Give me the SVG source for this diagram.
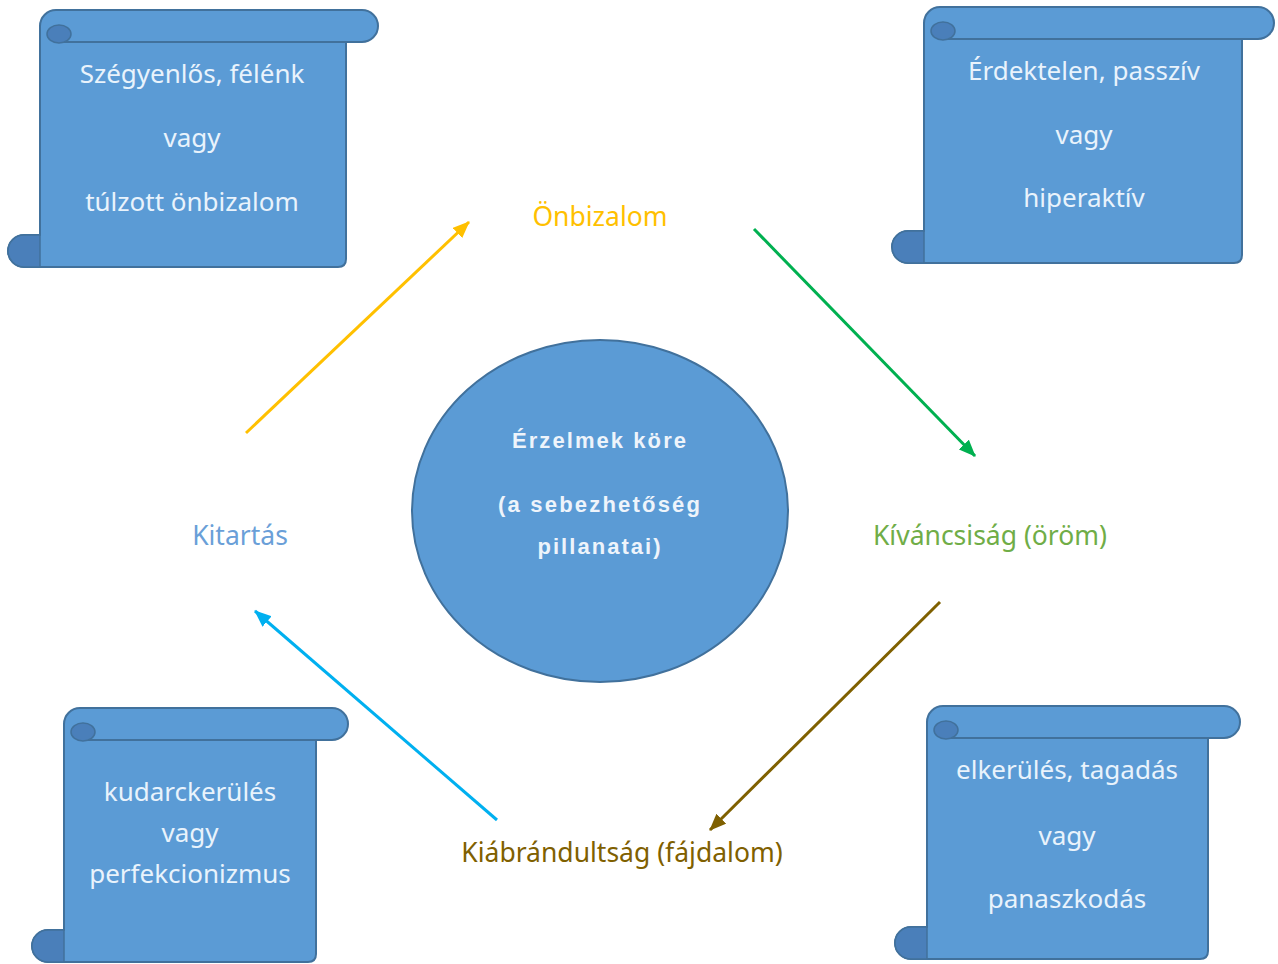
<svg xmlns="http://www.w3.org/2000/svg" width="1278" height="964" viewBox="0 0 1278 964">
<style>
.scroll{fill:#5b9bd5;stroke:#41719c;stroke-width:2;stroke-linejoin:round}
.curl{fill:#4a7fba;stroke:#41719c;stroke-width:1.5}
.edge{fill:none;stroke:#41719c;stroke-width:2}
.st{font-family:"Noto Sans","Open Sans",sans-serif;font-size:26px;fill:#e9f3fc;text-anchor:middle}
.ct{font-family:"Liberation Sans",Arial,sans-serif;font-size:22px;font-weight:bold;fill:#eef4fb;text-anchor:middle;letter-spacing:2px}
.lbl{font-family:"Noto Sans","Open Sans",sans-serif;font-size:26.5px;text-anchor:middle}
.con{fill:none;stroke-width:3}
</style>
<defs>
<marker id="mY" markerUnits="userSpaceOnUse" markerWidth="18" markerHeight="14" refX="16" refY="7" orient="auto"><path d="M0,0 L17,7 L0,14 Z" fill="#ffc000"/></marker>
<marker id="mG" markerUnits="userSpaceOnUse" markerWidth="18" markerHeight="14" refX="16" refY="7" orient="auto"><path d="M0,0 L17,7 L0,14 Z" fill="#00b050"/></marker>
<marker id="mB" markerUnits="userSpaceOnUse" markerWidth="18" markerHeight="14" refX="16" refY="7" orient="auto"><path d="M0,0 L17,7 L0,14 Z" fill="#7f6000"/></marker>
<marker id="mC" markerUnits="userSpaceOnUse" markerWidth="18" markerHeight="14" refX="16" refY="7" orient="auto"><path d="M0,0 L17,7 L0,14 Z" fill="#00b0f0"/></marker>
</defs>
<rect width="1278" height="964" fill="#ffffff"/>

<g id="connectors">
<line class="con" x1="246" y1="433" x2="469" y2="222" stroke="#ffc000" marker-end="url(#mY)"/>
<line class="con" x1="754" y1="229" x2="975" y2="456" stroke="#00b050" marker-end="url(#mG)"/>
<line class="con" x1="940" y1="602" x2="710" y2="830" stroke="#7f6000" marker-end="url(#mB)"/>
<line class="con" x1="497" y1="820" x2="255" y2="611" stroke="#00b0f0" marker-end="url(#mC)"/>
</g>

<g id="scroll-top-left">
<path class="scroll" d="M40,26 A16,16 0 0 1 56,10 L362,10 A16,16 0 0 1 362,42 L346,42 L346,259 Q346,267 338,267 L24,267 A16,16 0 0 1 24,235 L40,235 Z"/>
<path class="edge" d="M62,42 L346,42"/>
<ellipse class="curl" cx="59" cy="34" rx="12" ry="9"/>
<path class="curl" d="M40,235 L24,235 A16,16 0 0 0 24,267 L40,267 Z"/>
<text class="st" x="192" y="83">Szégyenlős, félénk</text>
<text class="st" x="192" y="147">vagy</text>
<text class="st" x="192" y="211">túlzott önbizalom</text>
</g>

<g id="scroll-top-right">
<path class="scroll" d="M924,23 A16,16 0 0 1 940,7 L1258,7 A16,16 0 0 1 1258,39 L1242,39 L1242,255 Q1242,263 1234,263 L908,263 A16,16 0 0 1 908,231 L924,231 Z"/>
<path class="edge" d="M946,39 L1242,39"/>
<ellipse class="curl" cx="943" cy="31" rx="12" ry="9"/>
<path class="curl" d="M924,231 L908,231 A16,16 0 0 0 908,263 L924,263 Z"/>
<text class="st" x="1084" y="80">Érdektelen, passzív</text>
<text class="st" x="1084" y="144">vagy</text>
<text class="st" x="1084" y="207">hiperaktív</text>
</g>

<g id="scroll-bottom-left">
<path class="scroll" d="M64,724 A16,16 0 0 1 80,708 L332,708 A16,16 0 0 1 332,740 L316,740 L316,954 Q316,962 308,962 L48,962 A16,16 0 0 1 48,930 L64,930 Z"/>
<path class="edge" d="M86,740 L316,740"/>
<ellipse class="curl" cx="83" cy="732" rx="12" ry="9"/>
<path class="curl" d="M64,930 L48,930 A16,16 0 0 0 48,962 L64,962 Z"/>
<text class="st" x="190" y="801">kudarckerülés</text>
<text class="st" x="190" y="842">vagy</text>
<text class="st" x="190" y="883">perfekcionizmus</text>
</g>

<g id="scroll-bottom-right">
<path class="scroll" d="M927,722 A16,16 0 0 1 943,706 L1224,706 A16,16 0 0 1 1224,738 L1208,738 L1208,951 Q1208,959 1200,959 L911,959 A16,16 0 0 1 911,927 L927,927 Z"/>
<path class="edge" d="M949,738 L1208,738"/>
<ellipse class="curl" cx="946" cy="730" rx="12" ry="9"/>
<path class="curl" d="M927,927 L911,927 A16,16 0 0 0 911,959 L927,959 Z"/>
<text class="st" x="1067" y="779">elkerülés, tagadás</text>
<text class="st" x="1067" y="845">vagy</text>
<text class="st" x="1067" y="908">panaszkodás</text>
</g>

<g id="center">
<ellipse cx="600" cy="511" rx="188" ry="171" fill="#5b9bd5" stroke="#41719c" stroke-width="2"/>
<text class="ct" x="600" y="448" textLength="176" lengthAdjust="spacing">Érzelmek köre</text>
<text class="ct" x="600" y="512" textLength="204" lengthAdjust="spacing">(a sebezhetőség</text>
<text class="ct" x="600" y="554" textLength="125" lengthAdjust="spacing">pillanatai)</text>
</g>

<g id="label-onbizalom"><text class="lbl" x="600" y="226" fill="#ffc000">Önbizalom</text></g>
<g id="label-kivancsisag"><text class="lbl" x="990" y="545" fill="#70ad47">Kíváncsiság (öröm)</text></g>
<g id="label-kiabrandultsag"><text class="lbl" x="622" y="862" fill="#7f6000">Kiábrándultság (fájdalom)</text></g>
<g id="label-kitartas"><text class="lbl" x="240" y="545" fill="#6a9fd8">Kitartás</text></g>
</svg>
